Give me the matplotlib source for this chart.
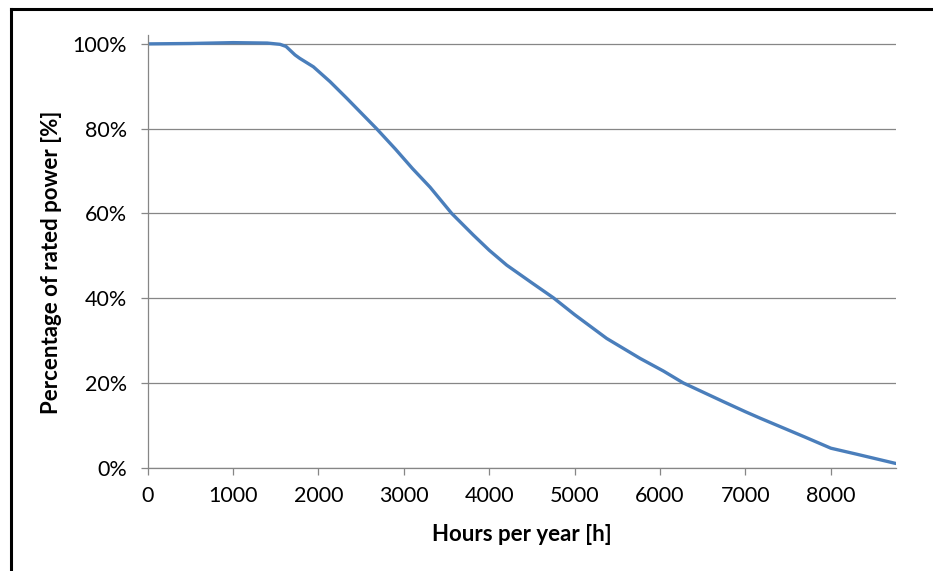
import matplotlib
matplotlib.use("Agg")
import matplotlib.pyplot as plt
from matplotlib.lines import Line2D
from matplotlib.ticker import FuncFormatter

# annual duration curve
hours = [0, 500, 1000, 1400, 1550, 1620, 1725, 1780, 1940, 2135, 2330, 2500,
         2680, 2900, 3100, 3306, 3560, 3813, 4000, 4204, 4500, 4750, 5000,
         5375, 5765, 6040, 6272, 6740, 7000, 7170, 7500, 7700, 8000, 8300, 8760]
power_pct = [100.0, 100.1, 100.3, 100.2, 99.9, 99.4, 97.4, 96.6, 94.6, 91.1, 87.2, 83.7,
             80.0, 75.2, 70.6, 66.2, 60.0, 54.9, 51.3, 47.8, 43.6, 40.1, 36.1,
             30.5, 25.8, 22.8, 20.0, 15.6, 13.2, 11.7, 8.9, 7.2, 4.6, 3.2, 1.0]
x_ticks = [0, 1000, 2000, 3000, 4000, 5000, 6000, 7000, 8000]
y_ticks = [0, 20, 40, 60, 80, 100]

plt.rcParams['font.family'] = ['Lato', 'DejaVu Sans']
grey = '#868686'

fig = plt.figure(figsize=(9.33, 5.71), dpi=100)
ax = fig.add_axes([0.1583, 0.1809, 0.9601 - 0.1583, 0.9387 - 0.1809])

ax.plot(hours, power_pct, color='#4A7EBB', lw=2.4, solid_capstyle='round',
        solid_joinstyle='round')

ax.set_xlim(0, 8760)
ax.set_ylim(0, 102.1)
ax.set_xticks(x_ticks)
ax.set_yticks(y_ticks)
ax.yaxis.set_major_formatter(FuncFormatter(lambda v, p: '%d%%' % v))

ax.grid(axis='y', color=grey, lw=0.9)
ax.set_axisbelow(True)
for s in ['top', 'right']:
    ax.spines[s].set_visible(False)
for s in ['left', 'bottom']:
    ax.spines[s].set_color(grey)
    ax.spines[s].set_linewidth(0.9)
ax.tick_params(colors=grey, labelcolor='black', length=5, width=0.9,
               labelsize=15.5)
ax.tick_params(axis='x', pad=8)
ax.tick_params(axis='y', pad=10)

# axis titles placed where the reference has them (axes fractions)
ax.set_xlabel('Hours per year [h]', fontsize=16, fontweight='bold', va='center')
ax.xaxis.set_label_coords(0.5, -0.1555)
ax.set_ylabel('Percentage of rated power [%]', fontsize=16, fontweight='bold',
              va='center', ha='center')
ax.yaxis.set_label_coords(-0.128, 0.475)

# the chart frame: only the top and left edges are inside the picture
fig.add_artist(Line2D([10.5 / 933, 1.0], [1 - 9 / 571, 1 - 9 / 571], color='black', lw=2.2,
                      transform=fig.transFigure))
fig.add_artist(Line2D([10.5 / 933, 10.5 / 933], [0, 1 - 9 / 571], color='black', lw=2.2,
                      transform=fig.transFigure))

fig.savefig('out.png', dpi=100)
